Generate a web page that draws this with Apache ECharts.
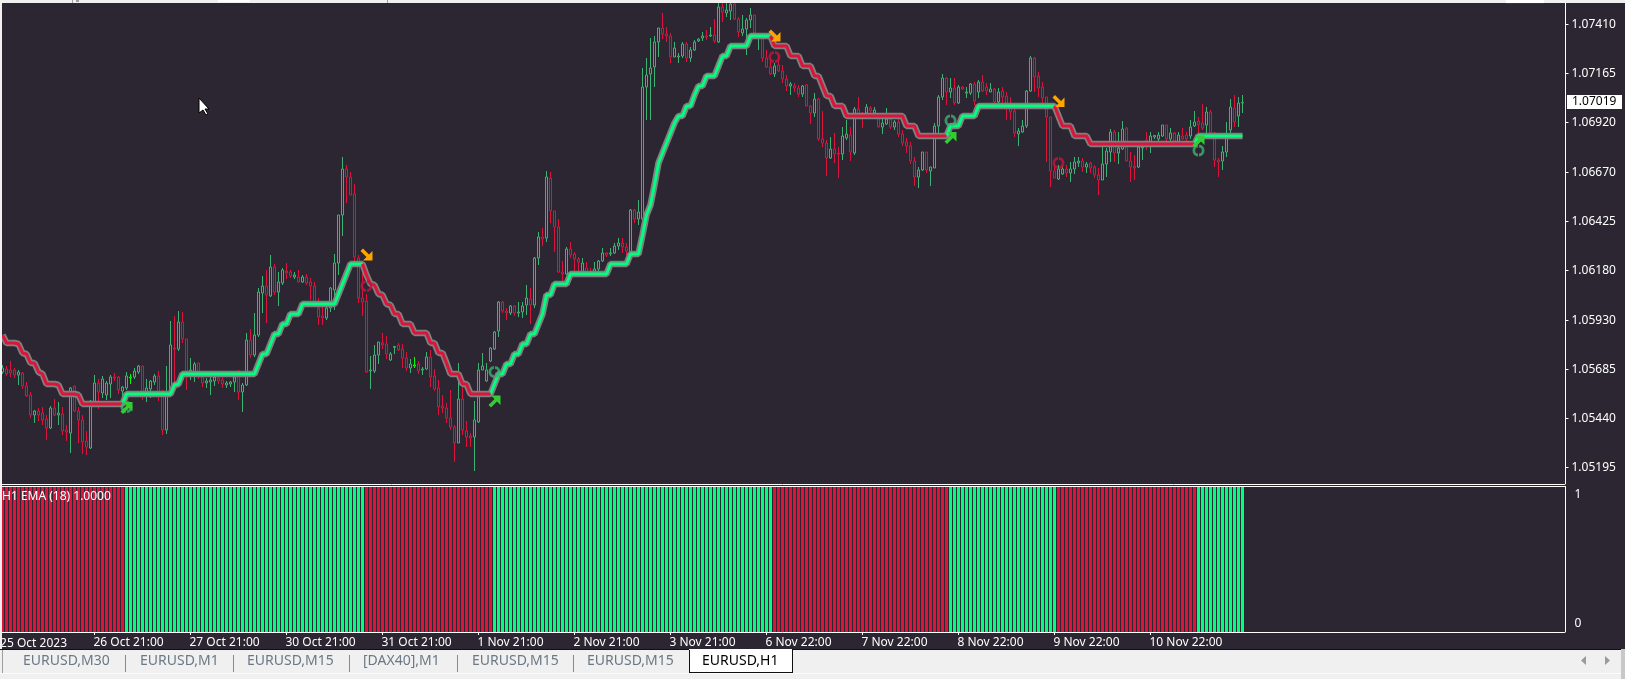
<!DOCTYPE html>
<html>
<head>
<meta charset="utf-8">
<title>EURUSD,H1</title>
<style>
html, body { margin: 0; padding: 0; background: #2b2631; overflow: hidden; }
#chart { width: 1625px; height: 679px; }
</style>
<script src="https://cdn.jsdelivr.net/npm/echarts@6/dist/echarts.min.js"></script>
</head>
<body>
<div id="chart"></div>
<script>
// candles in broker points (price x 100000): open, close, low, high
const candles = [
[105671,105691,105661,105706],[105686,105661,105651,105701],[105681,105666,105646,105726],[105681,105656,105641,105691],
[105656,105671,105606,105681],[105666,105601,105586,105671],[105601,105551,105546,105621],[105556,105456,105441,105571],
[105456,105476,105416,105481],[105476,105456,105426,105491],[105466,105431,105406,105496],[105436,105391,105331,105456],
[105391,105491,105386,105501],[105491,105456,105451,105536],[105456,105466,105406,105521],[105461,105376,105356,105496],
[105381,105371,105326,105406],[105366,105591,105266,105596],[105601,105476,105471,105601],[105476,105431,105316,105496],
[105431,105321,105261,105456],[105326,105296,105256,105376],[105291,105526,105286,105531],[105516,105616,105506,105656],
[105616,105571,105486,105636],[105566,105636,105541,105651],[105556,105616,105531,105626],[105611,105646,105541,105656],
[105646,105641,105626,105666],[105646,105581,105561,105651],[105576,105596,105516,105601],[105591,105651,105581,105671],
[105641,105646,105611,105661],[105646,105676,105636,105691],[105671,105701,105661,105706],[105701,105566,105531,105701],
[105571,105591,105521,105636],[105586,105626,105541,105631],[105621,105651,105606,105661],[105651,105571,105526,105676],
[105561,105381,105356,105581],[105381,105561,105361,105701],[105571,105806,105556,105926],[105791,105786,105606,105951],
[105786,105921,105776,105976],[105921,105836,105816,105971],[105836,105671,105581,105836],[105656,105681,105631,105741],
[105671,105711,105621,105721],[105716,105656,105636,105716],[105646,105616,105596,105666],[105616,105626,105591,105641],
[105621,105631,105556,105656],[105626,105646,105601,105656],[105641,105626,105611,105646],[105631,105611,105591,105646],
[105606,105616,105591,105626],[105611,105621,105596,105626],[105621,105646,105571,105666],[105656,105571,105531,105681],
[105571,105606,105471,105616],[105606,105831,105601,105866],[105831,105756,105741,105886],[105756,105856,105746,105966],
[105856,106071,105846,106091],[106066,106101,105966,106151],[106101,106056,105916,106181],[106051,106196,106046,106256],
[106196,106071,106056,106211],[106071,106121,106001,106171],[106116,106181,106106,106191],[106176,106166,106136,106216],
[106171,106151,106141,106181],[106146,106156,106136,106171],[106146,106121,106121,106181],[106121,106146,106116,106156],
[106146,106116,106106,106161],[106121,106101,106031,106141],[106101,106006,106006,106121],[105991,105946,105906,106041],
[105951,105941,105906,105996],[105941,105991,105931,106016],[105991,106091,105971,106096],[106081,106216,105981,106261],
[106216,106456,106156,106456],[106456,106686,106351,106746],[106686,106646,106516,106706],[106646,106556,106556,106671],
[106561,106246,106221,106611],[106241,106041,106016,106256],[106041,106021,105951,106196],[106026,105671,105666,106061],
[105676,105681,105586,105751],[105676,105756,105666,105806],[105756,105821,105711,105821],[105816,105806,105786,105866],
[105811,105761,105736,105851],[105731,105761,105726,105771],[105794,105799,105761,105801],[105806,105781,105776,105816],
[105786,105741,105691,105811],[105741,105691,105676,105771],[105691,105711,105666,105736],[105701,105706,105691,105746],
[105711,105676,105661,105726],[105681,105686,105656,105696],[105686,105746,105681,105771],[105746,105646,105596,105781],
[105651,105586,105576,105686],[105591,105496,105456,105631],[105501,105491,105466,105556],[105491,105441,105416,105516],
[105441,105396,105381,105581],[105396,105316,105221,105406],[105316,105536,105316,105716],[105536,105381,105356,105606],
[105376,105346,105296,105426],[105351,105341,105296,105366],[105346,105431,105176,105526],[105421,105681,105416,105716],
[105681,105701,105681,105766],[105626,105681,105621,105716],[105726,105791,105721,105796],[105786,105871,105781,105876],
[105876,106021,105846,106026],[106021,105976,105966,106026],[105976,105966,105931,105991],[105966,106001,105956,106006],
[106001,105966,105951,106006],[105966,105971,105946,106021],[105971,106001,105941,106021],[106006,106041,105956,106106],
[106036,106006,105911,106091],[106006,106241,105991,106246],[106241,106346,106206,106371],[106346,106336,106301,106391],
[106341,106646,106321,106676],[106641,106476,106416,106671],[106476,106396,106271,106476],[106396,106171,106166,106436],
[106171,106161,106121,106226],[106161,106286,106156,106296],[106286,106256,106241,106321],[106261,106236,106171,106271],
[106236,106221,106166,106246],[106166,106216,106161,106241],[106191,106171,106161,106221],[106171,106166,106161,106191],
[106171,106186,106161,106221],[106186,106226,106171,106231],[106226,106266,106221,106291],[106266,106256,106246,106271],
[106261,106266,106251,106291],[106266,106301,106261,106316],[106301,106316,106281,106341],[106316,106296,106266,106341],
[106296,106276,106256,106316],[106271,106481,106271,106486],[106481,106436,106416,106486],[106436,106471,106406,106531],
[106436,107096,106406,107191],[107096,107156,106931,107241],[107161,107191,106931,107341],[107196,107321,107096,107351],
[107321,107391,107246,107391],[107391,107361,107336,107466],[107361,107351,107321,107396],[107351,107246,107216,107366],
[107246,107291,107246,107321],[107246,107251,107216,107266],[107251,107311,107241,107321],[107311,107241,107221,107321],
[107241,107281,107221,107296],[107281,107321,107276,107331],[107326,107336,107321,107341],[107341,107351,107326,107371],
[107351,107346,107331,107381],[107351,107356,107346,107396],[107356,107326,107316,107436],[107321,107496,107316,107516],
[107496,107471,107421,107516],[107466,107481,107446,107516],[107476,107511,107431,107516],[107511,107436,107431,107516],
[107436,107371,107346,107446],[107366,107386,107351,107456],[107386,107431,107256,107441],[107431,107456,107391,107491],
[107456,107366,107346,107456],[107351,107361,107281,107366],[107346,107241,107221,107346],[107241,107196,107191,107281],
[107196,107161,107156,107231],[107161,107201,107146,107216],[107206,107176,107171,107256],[107176,107136,107116,107206],
[107136,107101,107076,107156],[107101,107111,107056,107121],[107101,107091,107071,107116],[107091,107061,107046,107106],
[107061,107101,107046,107106],[107106,107001,107001,107111],[107001,106966,106911,107006],[106966,107036,106946,107066],
[107036,106836,106826,107041],[106836,106816,106796,106976],[106816,106741,106651,106831],[106741,106786,106736,106846],
[106786,106761,106716,106866],[106766,106761,106641,106796],[106761,106851,106731,106896],[106841,106861,106831,106931],
[106856,106771,106726,106896],[106766,106986,106756,106996],[106986,106956,106941,107046],[106951,106941,106891,106971],
[106966,106996,106956,107011],[106991,106976,106956,107001],[106966,106981,106956,106996],[106941,106896,106896,106956],
[106896,106916,106861,106941],[106911,106936,106906,106991],[106936,106896,106886,106956],[106896,106921,106881,106931],
[106921,106861,106846,106956],[106861,106816,106801,106881],[106821,106801,106766,106841],[106801,106726,106711,106821],
[106726,106646,106601,106746],[106646,106681,106591,106696],[106681,106771,106676,106771],[106771,106681,106666,106771],
[106676,106696,106601,106696],[106691,106901,106691,106916],[106901,107046,106866,107056],[107046,107141,107031,107161],
[107141,107071,107006,107146],[107071,107091,107041,107141],[107091,107016,107006,107141],[107016,107096,107011,107106],
[107096,107086,107081,107101],[107066,107071,107041,107096],[107066,107111,107056,107116],[107111,107026,107006,107121],
[107071,107121,107041,107131],[107121,107076,107071,107156],[107096,107076,107056,107116],[107071,107086,107071,107116],
[107086,107021,107016,107091],[107021,107071,107011,107091],[107076,107046,106996,107096],[107051,107016,106931,107071],
[107016,106971,106931,107046],[106976,106866,106846,107006],[106861,106876,106801,106891],[106871,106901,106866,106931],
[106901,107076,106891,107081],[107076,107241,107071,107251],[107241,107146,107071,107246],[107151,107091,107046,107171],
[107096,107041,107016,107121],[107046,106946,106721,107046],[106946,106676,106596,106946],[106676,106641,106641,106706],
[106636,106686,106631,106706],[106661,106686,106656,106706],[106686,106666,106646,106706],[106666,106686,106621,106721],
[106686,106721,106661,106746],[106716,106726,106696,106746],[106726,106696,106671,106741],[106696,106711,106666,106721],
[106716,106691,106666,106721],[106696,106656,106641,106706],[106656,106631,106556,106691],[106631,106711,106631,106796],
[106711,106776,106646,106791],[106771,106871,106721,106886],[106871,106766,106721,106881],[106766,106791,106711,106871],
[106786,106886,106781,106926],[106891,106726,106726,106896],[106726,106696,106621,106771],[106701,106691,106631,106756],
[106696,106796,106691,106796],[106791,106796,106731,106796],[106831,106801,106781,106871],[106816,106851,106766,106871],
[106846,106854,106836,106856],[106836,106856,106821,106871],[106851,106906,106846,106906],[106906,106836,106816,106906],
[106836,106866,106816,106891],[106866,106826,106821,106871],[106821,106856,106816,106871],[106851,106836,106831,106891],
[106856,106836,106826,106871],[106851,106896,106836,106931],[106901,106921,106896,106976],[106926,106906,106831,106946],
[106916,106891,106881,107011],[106906,106971,106856,106996],[106971,106866,106866,106981],[106866,106731,106696,106871],
[106731,106721,106646,106741],[106726,106771,106681,106801],[106771,106841,106746,106921],[106881,106996,106866,107036],
[106991,106921,106896,107056],[106951,107016,106896,107046],[107016,107019,106966,107056]
];

// the MA line, one value per bar, same points
const emaValues = [
105856,105816,105816,105816,105811,105766,105761,105716,105716,105671,105661,
105611,105611,105611,105606,105561,105561,105561,105561,105556,
105511,105511,105511,105511,105511,105511,105511,105511,105511,105511,105511,
105561,105561,105561,105561,105561,105561,105561,105561,105561,105561,105561,105561,
105606,105611,
105661,105661,105661,105661,105661,105661,105661,105661,105661,105661,105661,105661,105661,105661,105661,105661,105661,105661,105661,
105711,105761,105761,105811,105861,105861,105911,105911,105961,105961,105961,
106011,106011,106011,106011,106011,106011,106011,106011,106011,
106061,106111,106161,106211,106211,106211,106211,
106156,106111,106106,106061,106056,106011,106006,105961,105961,105911,105911,105911,
105866,105866,105866,105866,105816,105816,105766,105766,105716,105661,105661,105661,105611,105611,
105561,105561,105561,105561,105561,105561,
105611,105661,105661,105711,105711,105761,105761,105811,105811,105861,105861,105911,105961,106056,106056,
106111,106111,106111,106111,
106161,106161,106161,106161,106161,106161,106161,106161,106161,106161,
106211,106211,106211,106211,106211,106261,106261,106261,
106356,106456,106506,106606,106716,106766,106816,106866,106916,106951,106951,107001,107001,107056,107101,107101,
107151,107151,107151,107201,107251,107251,107301,107301,107301,107301,107301,
107351,107351,107351,107351,107351,107351,
107301,107301,107301,107301,107251,107251,107251,107201,107201,107201,107151,107151,107101,107051,107051,107001,107001,107001,
106951,106951,106951,106951,106951,106951,106951,106951,106951,106951,106951,106951,106951,106951,106951,
106901,106901,106901,106851,106851,106851,106851,106851,106851,106851,106851,
106901,106901,106901,106951,106951,106951,106951,
107001,107001,107001,107001,107001,107001,107001,107001,107001,107001,107001,107001,107001,107001,107001,107001,107001,107001,107001,107001,
106951,106901,106901,106901,106851,106851,106851,106851,
106811,106811,106811,106811,106811,106811,106811,106811,106811,106811,106811,106811,106811,106811,
106811,106811,106811,106811,106811,106811,106811,106811,106811,106811,106811,106811,106811,
106851,106851,106851,106851,106851,106851,106851,106851,106851,106851,106851,106851
];

// lower pane: 1 = up state, 0 = down state
const signalValues = [
0,0,0,0,0,0,0,0,0,0,0,0,0,0,0,0,0,0,0,0,0,0,0,0,0,0,0,0,0,0,0,
1,1,1,1,1,1,1,1,1,1,1,1,1,1,1,1,1,1,1,1,1,1,1,1,1,1,1,1,1,1,
1,1,1,1,1,1,1,1,1,1,1,1,1,1,1,1,1,1,1,1,1,1,1,1,1,1,1,1,1,1,
0,0,0,0,0,0,0,0,0,0,0,0,0,0,0,0,0,0,0,0,0,0,0,0,0,0,0,0,0,0,0,0,
1,1,1,1,1,1,1,1,1,1,1,1,1,1,1,1,1,1,1,1,1,1,1,1,1,1,1,1,1,1,1,1,1,1,1,
1,1,1,1,1,1,1,1,1,1,1,1,1,1,1,1,1,1,1,1,1,1,1,1,1,1,1,1,1,1,1,1,1,1,1,
0,0,0,0,0,0,0,0,0,0,0,0,0,0,0,0,0,0,0,0,0,0,
0,0,0,0,0,0,0,0,0,0,0,0,0,0,0,0,0,0,0,0,0,0,
1,1,1,1,1,1,1,1,1,1,1,1,1,1,1,1,1,1,1,1,1,1,1,1,1,1,1,
0,0,0,0,0,0,0,0,0,0,0,0,0,0,0,0,0,0,0,0,0,0,0,0,0,0,0,0,0,0,0,0,0,0,0,
1,1,1,1,1,1,1,1,1,1,1,1
];

const dojiBars = [32, 103];

const sellArrows = [[91, 106259], [193, 107354], [264, 107026]];
const buyArrows = [[31, 105491], [123, 105524], [237, 106841], [299, 106824]];
const sellMarks = [[91, 106101], [193, 107246], [264, 106716]];
const buyMarks = [[31, 105496], [123, 105671], [237, 106928], [299, 106778]];

const priceTicks = [1.0741, 1.07165, 1.0692, 1.0667, 1.06425, 1.0618, 1.0593, 1.05685, 1.0544, 1.05195];
const lastPrice = 1.07019;

const timeTickIndex = [23, 47, 71, 95, 119, 143, 167, 191, 215, 239, 263, 287];
const timeTickLabels = ['26 Oct 21:00', '27 Oct 21:00', '30 Oct 21:00', '31 Oct 21:00', '1 Nov 21:00', '2 Nov 21:00',
  '3 Nov 21:00', '6 Nov 22:00', '7 Nov 22:00', '8 Nov 22:00', '9 Nov 22:00', '10 Nov 22:00'];

const tabLabels = ['EURUSD,M30', 'EURUSD,M1', 'EURUSD,M15', '[DAX40],M1', 'EURUSD,M15', 'EURUSD,M15', 'EURUSD,H1'];
const tabTextX = [23, 140, 247, 363, 472, 587, 702];
const tabDividerX = [125, 233, 349, 457, 573];

const BG = '#2b2631';
const RED = '#dc143c';
const GREEN = '#00ff7f';
const CANDLE_GREEN = '#3cb371';
const AXIS_FONT = 'Noto Sans';

const UP_ARROW = 'path://M0 9.5L2.5 12L8.5 6L12 9.5L12 0L2.5 0L6 3.5Z';
const DOWN_ARROW = 'path://M0 2.5L2.5 0L8.5 6L12 2.5L12 12L2.5 12L6 8.5Z';
const RING = 'path://M5.4 0A6 6 0 0 0 5.4 12L5.4 9A3 3 0 0 1 5.4 3ZM6.6 0A6 6 0 0 1 6.6 12L6.6 9A3 3 0 0 0 6.6 3Z';

const barCount = 391;   // room to the right of the last candle
const categories = [];
for (let i = 0; i < barCount; i++) {
    const k = timeTickIndex.indexOf(i);
    categories.push(k >= 0 ? timeTickLabels[k] : '');
}

const toPrice = (p) => p / 100000;

const candleData = candles.map((c, i) => {
    const item = { value: c.map(toPrice) };
    if (dojiBars.indexOf(i) >= 0) {
        item.itemStyle = { borderColor: '#00ff00', borderColor0: '#00ff00' };
    }
    return item;
});

const emaPrices = emaValues.map(toPrice);
// a segment takes the colour of the bar it leads to
const emaUp = emaPrices.map((v, i) => (signalValues[i] === 1 || signalValues[i + 1] === 1) ? v : null);
const emaDown = emaPrices.map((v, i) => (signalValues[i] === 0 || signalValues[i + 1] === 0) ? v : null);

const scatterSeries = (name, rows, symbol, size, color, opacity, z) => ({
    name: name,
    type: 'scatter',
    xAxisIndex: 0,
    yAxisIndex: 0,
    symbol: symbol,
    symbolSize: size,
    z: z,
    itemStyle: { color: color, opacity: opacity },
    data: rows.map((r) => [r[0], toPrice(r[1])])
});

const lightRect = (x, y, w, h, fill) => ({
    type: 'rect',
    z: 100,
    silent: true,
    shape: { x: x, y: y, width: w, height: h },
    style: { fill: fill }
});

const graphics = [
    lightRect(0, 0, 1625, 3, '#f0f0f0'),
    lightRect(0, 0, 2, 649, '#f0f0f0'),
    lightRect(72, 0, 1, 3, '#a0a0a0'),
    lightRect(387, 0, 1, 3, '#a0a0a0'),
    lightRect(76, 0, 3, 2, '#a0a0a0'),
    lightRect(218, 0, 32, 2, '#ffffff'),
    lightRect(1506, 0, 38, 4, '#ffffff'),
    lightRect(1506, 3, 38, 1, '#2020e0'),
    lightRect(2, 486, 1564, 1, '#ffffff'),
    lightRect(0, 649, 1625, 30, '#f0f0f0'),
    lightRect(0, 649, 1621, 1, '#101010'),
    lightRect(0, 673, 1625, 1, '#fcfcfc'),
    lightRect(1621, 649, 4, 30, '#c8c8c8'),
    lightRect(2, 650, 1, 23, '#a0a0a0'),
    lightRect(689, 649, 103, 23, '#ffffff'),
    lightRect(689, 672, 104, 1, '#101010'),
    lightRect(792, 650, 1, 23, '#101010'),
    lightRect(689, 650, 1, 22, '#101010'),
    {
        type: 'text', z: 60, silent: true, x: 2, y: 497,
        style: { text: 'H1 EMA (18) 1.0000', fill: '#ffffff', font: '12px "' + AXIS_FONT + '"', verticalAlign: 'middle', align: 'left' }
    },
    {
        type: 'text', z: 60, silent: true, x: 67, y: 644,
        style: { text: '25 Oct 2023', fill: '#ffffff', font: '12px "' + AXIS_FONT + '"', verticalAlign: 'middle', align: 'right' }
    },
    { type: 'polygon', z: 100, silent: true,
      shape: { points: [[199, 98], [199, 113], [203, 110], [206, 115], [208, 114], [205, 109], [209, 109]] },
      style: { fill: '#ffffff', stroke: '#000000', lineWidth: 1 } },
    { type: 'polygon', z: 100, silent: true, shape: { points: [[1586, 656], [1586, 665], [1581, 660.5]] }, style: { fill: '#9a9a9a' } },
    { type: 'polygon', z: 100, silent: true, shape: { points: [[1605, 656], [1605, 665], [1610, 660.5]] }, style: { fill: '#9a9a9a' } }
];
tabDividerX.forEach((x) => graphics.push(lightRect(x, 655, 1, 17, '#8a8a8a')));
tabLabels.forEach((t, i) => graphics.push({
    type: 'text', z: 110, silent: true, x: tabTextX[i], y: 661,
    style: {
        text: t,
        fill: i === tabLabels.length - 1 ? '#000000' : '#6b7885',
        font: '14px "Noto Sans"',
        verticalAlign: 'middle',
        align: 'left'
    }
}));

const chart = echarts.init(document.getElementById('chart'), null, { renderer: 'canvas' });

chart.setOption({
    backgroundColor: BG,
    animation: false,
    tooltip: { show: false },
    grid: [
        { left: 0.5, top: 3, width: 1564, height: 481 },
        { left: 0.5, top: 487, width: 1564, height: 145 }
    ],
    xAxis: [
        {
            type: 'category',
            gridIndex: 0,
            data: categories,
            boundaryGap: true,
            axisLine: { show: true, onZero: false, lineStyle: { color: '#ffffff' } },
            axisTick: { show: false },
            axisLabel: { show: false },
            splitLine: { show: false }
        },
        {
            type: 'category',
            gridIndex: 1,
            data: categories,
            boundaryGap: true,
            axisLine: { show: true, onZero: false, lineStyle: { color: '#ffffff' } },
            axisTick: {
                show: true,
                length: 3,
                alignWithLabel: true,
                interval: (i, v) => v !== '',
                lineStyle: { color: '#ffffff' }
            },
            axisLabel: {
                show: true,
                interval: (i, v) => v !== '',
                color: '#ffffff',
                fontFamily: AXIS_FONT,
                fontSize: 12,
                align: 'left',
                margin: 5,
                padding: [0, 0, 0, -1]
            },
            splitLine: { show: false }
        }
    ],
    yAxis: [
        {
            type: 'value',
            gridIndex: 0,
            position: 'right',
            offset: 1,
            min: 1.05111,
            max: 1.07516,
            axisLine: { show: true, lineStyle: { color: '#ffffff' } },
            axisTick: { show: true, length: 3, customValues: priceTicks, lineStyle: { color: '#ffffff' } },
            axisLabel: {
                show: true,
                customValues: priceTicks,
                formatter: (v) => v.toFixed(5),
                color: '#ffffff',
                fontFamily: AXIS_FONT,
                fontSize: 12,
                margin: 6
            },
            splitLine: { show: false }
        },
        {
            type: 'value',
            gridIndex: 1,
            position: 'right',
            offset: 1,
            min: -0.062,
            max: 1.062,
            axisLine: { show: true, onZero: false, lineStyle: { color: '#ffffff' } },
            axisTick: { show: false },
            axisLabel: {
                show: true,
                customValues: [0, 1],
                color: '#ffffff',
                fontFamily: AXIS_FONT,
                fontSize: 12,
                margin: 9
            },
            splitLine: { show: false }
        }
    ],
    series: [
        {
            name: 'EURUSD',
            type: 'candlestick',
            xAxisIndex: 0,
            yAxisIndex: 0,
            barWidth: 3,
            z: 2,
            itemStyle: {
                color: BG,
                color0: BG,
                borderColor: CANDLE_GREEN,
                borderColor0: RED,
                borderWidth: 1
            },
            data: candleData
        },
        {
            name: 'ema outline',
            type: 'line',
            xAxisIndex: 0,
            yAxisIndex: 0,
            z: 3,
            symbol: 'none',
            lineStyle: { color: '#808080', width: 6.5, join: 'bevel' },
            data: emaPrices
        },
        {
            name: 'ema up',
            type: 'line',
            xAxisIndex: 0,
            yAxisIndex: 0,
            z: 4,
            symbol: 'none',
            lineStyle: { color: GREEN, width: 3 },
            data: emaUp
        },
        {
            name: 'ema down',
            type: 'line',
            xAxisIndex: 0,
            yAxisIndex: 0,
            z: 4,
            symbol: 'none',
            lineStyle: { color: RED, width: 3 },
            data: emaDown
        },
        scatterSeries('buy mark', buyMarks, RING, 12, '#3cb371', 0.8, 5),
        scatterSeries('sell mark', sellMarks, RING, 12, '#c0143c', 0.85, 5),
        scatterSeries('buy arrow', buyArrows, UP_ARROW, 12, '#32cd32', 1, 6),
        scatterSeries('sell arrow', sellArrows, DOWN_ARROW, 12, '#ffa500', 1, 6),
        {
            name: 'state',
            type: 'custom',
            xAxisIndex: 1,
            yAxisIndex: 1,
            z: 2,
            clip: true,
            renderItem: (params, api) => {
                const cx = api.coord([api.value(0), 0])[0];
                const top = api.coord([api.value(0), 1.062])[1];
                const bottom = api.coord([api.value(0), -0.062])[1];
                return {
                    type: 'rect',
                    shape: { x: Math.round(cx - 1.5), y: top, width: 3, height: bottom - top },
                    style: { fill: api.value(1) === 1 ? GREEN : RED }
                };
            },
            encode: { x: 0, y: 1 },
            data: signalValues.map((v, i) => [i, v])
        }
    ]
});

// current price box sits on the price scale, so take its place from the axis
const lastY = Math.floor(chart.convertToPixel({ yAxisIndex: 0 }, lastPrice));
graphics.push(lightRect(1567, lastY - 7, 55, 14, '#ffffff'));
graphics.push({
    type: 'text', z: 110, silent: true, x: 1572, y: lastY,
    style: { text: lastPrice.toFixed(5), fill: '#000000', font: '12px "' + AXIS_FONT + '"', verticalAlign: 'middle', align: 'left' }
});
chart.setOption({ graphic: graphics });
</script>
</body>
</html>
